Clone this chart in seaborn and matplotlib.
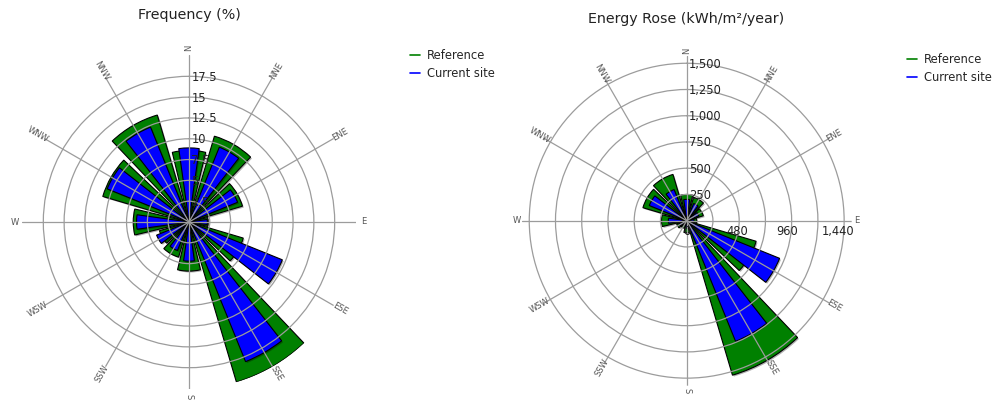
import numpy as np
import pandas as pd
import matplotlib
matplotlib.use("Agg")
import matplotlib.pyplot as plt
import seaborn as sns
from matplotlib import patheffects as pe
from matplotlib.lines import Line2D
from matplotlib.transforms import offset_copy

# ---- data -------------------------------------------------------------
sectors = ["N", "NNE", "ENE", "E", "ESE", "SSE", "S", "SSW", "WSW", "W", "WNW", "NNW"]
sector_deg = [0, 30, 60, 90, 120, 150, 180, 210, 240, 270, 300, 330]

freq_reference = [8.6, 10.75, 6.7, 2.3, 6.8, 20.05, 5.9, 4.4, 3.7, 6.7, 10.8, 13.4]
freq_current = [8.9, 9.7, 6.3, 2.2, 12.1, 18.1, 4.7, 3.7, 4.2, 6.3, 10.6, 12.3]

energy_reference = [250, 232, 165, 95, 690, 1535, 115, 75, 100, 240, 435, 460]
energy_current = [203, 177, 125, 70, 955, 1240, 70, 50, 80, 175, 385, 320]

freq_rings = [2.5, 5, 7.5, 10, 12.5, 15, 17.5]
freq_ring_labels = ["2.5", "5", "7.5", "10", "12.5", "15", "17.5"]
energy_rings = [250, 500, 750, 1000, 1250, 1500]
energy_ring_labels = ["250", "500", "750", "1,000", "1,250", "1,500"]
energy_axis_values = [0, 480, 960, 1440]
energy_axis_labels = ["0", "480", "960", "1,440"]

series_names = ["Reference", "Current site"]
series_colors = ["#008000", "#0000ff"]

# ---- style ------------------------------------------------------------
sns.set_style("white")
plt.rcParams["font.family"] = ["DejaVu Sans"]

W, H = 995, 400
fig = plt.figure(figsize=(W / 100, H / 100), dpi=100)


def rose(rect, ref, cur, rmax, rings, ring_labels, title, title_xy, legend_xy,
         label_scale):
    ax = fig.add_axes(rect, projection="polar")
    ax.set_theta_zero_location("N")
    ax.set_theta_direction(-1)

    df = pd.DataFrame({"theta": np.deg2rad(sector_deg), "ref": ref, "cur": cur})
    sns.barplot(data=df, x="theta", y="ref", native_scale=True, orient="x",
                width=0.9, color=series_colors[0], saturation=1,
                edgecolor="black", linewidth=0.8, errorbar=None, ax=ax)
    sns.barplot(data=df, x="theta", y="cur", native_scale=True, orient="x",
                width=0.53, color=series_colors[1], saturation=1,
                edgecolor="black", linewidth=0.8, errorbar=None, ax=ax)
    for p in ax.patches:
        p.set_path_effects([pe.SimplePatchShadow(offset=(1, -1),
                                                 shadow_rgbFace="black", alpha=0.3),
                            pe.Normal()])

    ax.set_xlim(0, 2 * np.pi)
    ax.set_ylim(0, rmax)
    ax.set_xticks(np.deg2rad(sector_deg))
    ax.set_xticklabels([])
    ax.set_yticks(rings)
    ax.set_yticklabels([])
    ax.set_xlabel("")
    ax.set_ylabel("")
    ax.spines["polar"].set_visible(False)
    ax.set_axisbelow(False)
    ax.grid(True, color="#9c9c9c", linewidth=0.9)
    ax.tick_params(length=0, pad=0)

    # compass sector names around the rose, written along each spoke
    for name, deg in zip(sectors, sector_deg):
        rot = 90 - deg
        if rot < -90:
            rot += 180
        ax.text(np.deg2rad(deg), rmax * label_scale, name, rotation=rot,
                ha="center", va="center", fontsize=6, color="#555555",
                clip_on=False)

    # ring values along the north spoke
    tr = offset_copy(ax.transData, fig=fig, x=2.5, y=-1, units="dots")
    for r, lab in zip(rings, ring_labels):
        ax.text(0, r, lab, transform=tr, ha="left", va="center",
                fontsize=8.3, color="#222222", zorder=10)

    fig.text(title_xy[0] / W, 1 - title_xy[1] / H, title, ha="center",
             va="center", fontsize=10.3, color="#222222")

    handles = [Line2D([], [], color=c, lw=1.2) for c in series_colors]
    fig.legend(handles, series_names, loc="upper left",
               bbox_to_anchor=(legend_xy[0] / W, 1 - legend_xy[1] / H),
               frameon=False, fontsize=8.3, handlelength=0.9, handletextpad=0.6,
               labelspacing=0.4, borderpad=0, borderaxespad=0)
    return ax


ax1 = rose([22 / W, 11 / H, 334 / W, 334 / H], freq_reference, freq_current,
           20.06, freq_rings, freq_ring_labels, "Frequency (%)", (189, 15),
           (410, 49), 1.045)

ax2 = rose([521.7 / W, 14.3 / H, 330 / W, 330 / H], energy_reference,
           energy_current, 1572, energy_rings, energy_ring_labels,
           "Energy Rose (kWh/m\u00b2/year)", (686, 19), (907, 53), 1.03)

# distance scale along the east spoke of the energy rose
tr_e = offset_copy(ax2.transData, fig=fig, x=0, y=-11, units="dots")
for v, lab in zip(energy_axis_values, energy_axis_labels):
    ax2.text(np.pi / 2, v, lab, transform=tr_e, ha="center", va="center",
             fontsize=8.3, color="#222222", zorder=10)

fig.savefig("out.png", dpi=100)
